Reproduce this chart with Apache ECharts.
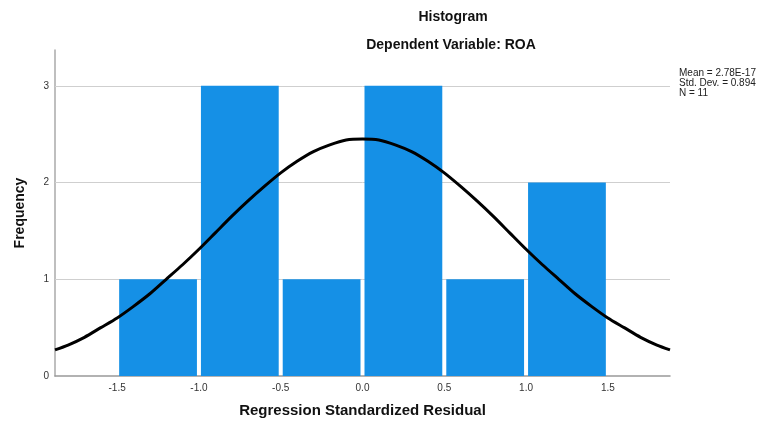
<!DOCTYPE html>
<html>
<head>
<meta charset="utf-8">
<script src="https://cdn.jsdelivr.net/npm/echarts@6/dist/echarts.min.js"></script>
<style>html,body{margin:0;padding:0;background:#fff}#c{width:768px;height:423px}</style>
</head>
<body>
<div id="c"></div>
<script>
// Histogram bins (start, end) and frequencies
var binStarts = [-1.5, -1.0, -0.5, 0.0, 0.5, 1.0];
var binEnds   = [-1.0, -0.5, 0.0, 0.5, 1.0, 1.5];
var counts    = [1, 3, 1, 3, 1, 2];
// Normal curve points
var curveX = [-1.88,-1.8,-1.7,-1.6,-1.5,-1.4,-1.3,-1.2,-1.1,-1.0,-0.9,-0.8,-0.7,-0.6,-0.5,-0.4,-0.3,-0.2,-0.1,0.0,0.1,0.2,0.3,0.4,0.5,0.6,0.7,0.8,0.9,1.0,1.1,1.2,1.3,1.4,1.5,1.6,1.7,1.8,1.88];
var curveY = [0.27,0.32,0.40,0.50,0.60,0.72,0.85,1.00,1.15,1.31,1.48,1.65,1.81,1.96,2.10,2.22,2.32,2.39,2.44,2.45,2.44,2.39,2.32,2.22,2.10,1.96,1.81,1.65,1.48,1.31,1.15,1.00,0.85,0.72,0.60,0.50,0.40,0.32,0.27];
var xTicks = [-1.5,-1.0,-0.5,0.0,0.5,1.0,1.5];
var yTicks = [0,1,2,3];
var statLines = ['Mean = 2.78E-17','Std. Dev. = 0.894','N = 11'];

var FONT = '"Liberation Sans", Arial, sans-serif';
var chart = echarts.init(document.getElementById('c'));

var histData = binStarts.map(function(s,i){ return [s, binEnds[i], counts[i]]; });
var curveData = curveX.map(function(x,i){ return [x, curveY[i]]; });

chart.setOption({
  animation: false,
  backgroundColor: '#fff',
  title: [
    {text: 'Histogram', left: 448, top: 5, textAlign: 'center',
     textStyle: {fontFamily: FONT, fontSize: 14, fontWeight: 'bold', color: '#111'}},
    {text: 'Dependent Variable: ROA', left: 446, top: 33, textAlign: 'center',
     textStyle: {fontFamily: FONT, fontSize: 14, fontWeight: 'bold', color: '#111'}}
  ],
  graphic: [{
    type: 'text', left: 679, top: 68,
    style: {text: statLines.join('\n'), font: '10px ' + FONT, fill: '#222', lineHeight: 10}
  }],
  grid: {left: 55, right: 98, top: 50, bottom: 46},
  xAxis: {
    type: 'value', min: -1.88, max: 1.88,
    name: 'Regression Standardized Residual', nameLocation: 'middle', nameGap: 27,
    nameTextStyle: {fontFamily: FONT, fontSize: 15, fontWeight: 'bold', color: '#111'},
    axisLine: {show: true, onZero: false, lineStyle: {color: '#999', width: 1.5}},
    axisTick: {show: false},
    splitLine: {show: false},
    axisLabel: {customValues: xTicks, fontFamily: FONT, fontSize: 10, color: '#333', margin: 7,
      formatter: function(v){ return Number(v).toFixed(1); }}
  },
  yAxis: {
    type: 'value', min: 0, max: 3.37,
    name: 'Frequency', nameLocation: 'middle', nameGap: 28,
    nameTextStyle: {fontFamily: FONT, fontSize: 14, fontWeight: 'bold', color: '#111'},
    axisLine: {show: true, onZero: false, lineStyle: {color: '#aaa', width: 1.5}},
    axisTick: {show: false},
    splitLine: {show: false},
    axisLabel: {customValues: yTicks, fontFamily: FONT, fontSize: 10, color: '#333', margin: 6}
  },
  series: [
    {
      type: 'line', data: [], z: 1,
      markLine: {
        silent: true, symbol: 'none', label: {show: false}, z: 1,
        lineStyle: {color: '#cfcfcf', width: 1, type: 'solid'},
        data: yTicks.filter(function(t){return t>0;}).map(function(t){ return {yAxis: t}; })
      }
    },
    {
      type: 'custom',
      data: histData,
      encode: {x: [0,1], y: 2},
      renderItem: function(params, api){
        var p0 = api.coord([api.value(0), 0]);
        var p1 = api.coord([api.value(1), api.value(2)]);
        return {type: 'rect',
          shape: {x: p0[0] + 2, y: p1[1], width: p1[0] - p0[0] - 4, height: p0[1] - p1[1]},
          style: {fill: '#1590e6'}};
      },
      z: 3
    },
    {
      type: 'line', data: curveData, smooth: 0.25, showSymbol: false,
      lineStyle: {color: '#000', width: 3}, z: 5
    }
  ]
});
</script>
</body>
</html>
